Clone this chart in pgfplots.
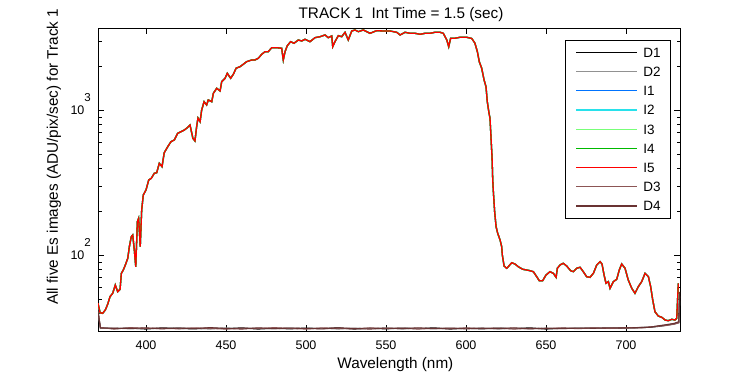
\documentclass[border=0pt]{standalone}
\usepackage{pgfplots}
\pgfplotsset{compat=1.18}
\usepackage{pgfplotstable}
\usepackage{fontspec}
\setmainfont{Liberation Sans}

\definecolor{colDa}{RGB}{0,0,0}
\definecolor{colDb}{RGB}{145,145,145}
\definecolor{colIa}{RGB}{0,115,255}
\definecolor{colIb}{RGB}{40,225,235}
\definecolor{colIc}{RGB}{120,255,120}
\definecolor{colId}{RGB}{0,185,0}
\definecolor{colIe}{RGB}{255,0,0}
\definecolor{colDc}{RGB}{140,85,85}
\definecolor{colDd}{RGB}{105,50,50}

\pgfplotstableread{
x y
370.0 46.7
371.3 40.2
372.9 39.8
374.6 42.0
376.1 46.1
377.5 51.8
379.2 54.7
380.8 62.4
382.3 56.1
383.8 58.3
384.6 75.1
385.8 79.2
387.1 85.8
388.6 95.3
389.6 114.6
390.8 134.4
391.7 138.0
392.7 108.8
393.6 83.4
394.6 170.5
395.4 180.0
396.4 114.6
397.3 205.3
398.3 260.6
400.0 282.1
401.7 330.6
403.3 339.6
405.2 367.8
406.7 371.3
408.3 431.0
410.0 408.3
411.4 510.0
413.6 561.0
415.6 607.5
417.7 624.1
419.8 694.0
421.9 711.9
424.0 731.3
425.6 755
427.5 791.9
429.3 641.2
430.6 614
431.7 779
432.5 885
433.8 834.4
434.8 1005
436.3 1146.6
437.9 1087.9
438.9 1177.8
441.1 1146.6
442.1 1310
444.2 1418
446.3 1359
447.3 1575
449.4 1662
450.8 1800
452.9 1662
454.6 1772
456.3 1949
458.8 1999
460.8 2077
462.9 2164
466.1 2223
468.1 2223
470.2 2284
472.3 2433
474.4 2536
476.4 2536
478.6 2702
481.7 2702
484.8 2677
485.8 2223
486.9 2536
488.3 2789
490.4 2972
492.5 2898
495.2 3053
497.3 3005
499.4 3088
502.5 2972
505.6 3167
508.8 3218
511.9 3306
513.9 3167
516.1 3254
516.7 2745
518.1 2972
520.2 3269
522.3 3218
524.4 3450
526.4 3053
528.6 3523
530.6 3579
532.7 3484
535.8 3579
540.0 3396
544.2 3540
548.3 3523
552.5 3523
556.7 3450
558.8 3306
561.9 3450
565.0 3396
568.1 3396
571.3 3343
574.4 3396
577.5 3396
580.6 3450
583.8 3450
585.8 3396
588.0 3053
589.2 2745
590.4 3138
593.1 3138
596.3 3188
600.4 3188
603.6 3128
605.6 2898
607.1 2536
608.3 2164
609.8 1949
611.3 1618
612.5 1455
613.3 1147
614.4 953.5
615.0 880.8
615.6 657.6
616.3 466.7
616.7 330.6
617.1 274.6
617.9 199.8
618.8 157.5
619.8 141.8
621.3 127.5
622.3 114.6
622.7 100.5
623.8 84.4
625.4 81.4
626.4 83.4
628.6 88.9
630.6 87.1
632.7 83.4
635.4 80.1
637.9 79.2
640.0 78.3
642.1 77.1
644.2 71.2
645.8 66.8
647.9 66.8
650.0 73.1
652.5 77.1
654.6 75.1
656.3 70.5
657.1 81.4
658.8 85.8
660.8 88.1
662.9 84.4
665.4 78.3
667.1 77.1
669.2 81.4
671.3 82.7
673.3 77.1
675.4 71.2
677.5 70.5
679.6 75.1
681.7 85.8
683.8 90.4
685.0 87.1
686.3 73.1
687.5 64.1
689.0 65.8
690.0 59.2
692.1 65.8
694.2 68.3
695.8 79.2
697.3 87.1
699.4 81.4
701.4 67.6
703.6 59.2
705.6 54.7
707.7 60.8
709.8 65.8
711.9 75.1
714.0 71.2
715.4 60.8
716.7 49.2
718.1 40.8
720.2 38.1
722.3 37.4
724.4 35.8
726.4 35.4
728.6 36.2
730.6 35.8
731.7 36.8
732.7 64.1
}\ispec

\pgfplotstableread{
x d1 d2 d3 d4
370.0 41.0 40.5 41.2 40.8
371.5 31.6 31.3 31.8 31.5
380 31.2 31.5 31.0 31.4
390 31.5 31.1 31.7 31.3
400 31.0 31.4 31.3 31.6
410 31.6 31.2 31.5 31.1
420 31.3 31.7 31.1 31.5
430 31.1 31.3 31.6 31.2
440 31.5 31.0 31.3 31.7
450 31.2 31.6 31.0 31.3
460 31.6 31.2 31.5 31.0
470 31.0 31.5 31.2 31.6
480 31.4 31.1 31.7 31.2
490 31.1 31.6 31.3 31.5
500 31.5 31.2 31.0 31.3
510 31.2 31.4 31.6 31.1
520 31.6 31.0 31.3 31.6
530 31.0 31.5 31.1 31.3
540 31.4 31.2 31.6 31.0
550 31.1 31.6 31.2 31.5
560 31.5 31.0 31.5 31.2
570 31.2 31.4 31.0 31.6
580 31.6 31.1 31.4 31.2
590 31.0 31.5 31.1 31.5
600 31.4 31.2 31.6 31.1
610 31.1 31.6 31.2 31.4
620 31.5 31.0 31.5 31.2
630 31.2 31.4 31.0 31.6
640 31.6 31.1 31.4 31.1
650 31.0 31.5 31.2 31.4
660 31.4 31.2 31.6 31.2
670 31.3 31.6 31.2 31.5
680 31.5 31.3 31.6 31.4
690 31.4 31.7 31.3 31.6
700 31.6 31.4 31.7 31.5
710 31.7 31.9 31.6 31.8
715 31.9 32.0 32.1 31.9
720 32.3 32.5 32.4 32.6
725 32.9 33.1 32.8 33.2
730 33.6 33.8 33.5 33.9
733.0 34.4 34.6 34.2 34.8
733.5 55.0 48.0 52.0 56.0
}\dspec

\begin{document}
\begin{tikzpicture}
\useasboundingbox (0,0) rectangle (750bp,375bp);
\begin{axis}[
  at={(98bp,44bp)}, anchor=south west,
  scale only axis, width=582bp, height=303bp,
  ymode=log,
  xmin=370, xmax=733.75, ymin=30.06, ymax=3694,
  xtick={400,450,500,550,600,650,700},
  xticklabels={400,450,500,550,600,650,700},
  ytick={100,1000},
  minor ytick={40,50,60,70,80,90,200,300,400,500,600,700,800,900,2000,3000},
  yticklabels={{10\raisebox{13bp}{\fontsize{11.5bp}{11.5bp}\selectfont 2}},{10\raisebox{13bp}{\fontsize{11.5bp}{11.5bp}\selectfont 3}}},
  tick align=inside,
  major tick length=6bp, minor tick length=3.5bp,
  every tick/.style={black, line width=0.6bp},
  axis line style={line width=0.8bp},
  xticklabel style={font=\fontsize{12.5bp}{12.5bp}\selectfont, anchor=base, yshift=-19bp, inner sep=0pt},
  yticklabel style={font=\fontsize{12.5bp}{12.5bp}\selectfont, anchor=base east, yshift=-4.7bp, xshift=-7bp, inner sep=0pt},
  title={TRACK 1\ \ Int Time = 1.5 (sec)},
  title style={font=\fontsize{15.3bp}{15.3bp}\selectfont, at={(axis description cs:0.5206,1)}, anchor=base, yshift=3.7bp, inner sep=0pt},
  xlabel={Wavelength (nm)},
  xlabel style={font=\fontsize{15.3bp}{15.3bp}\selectfont, at={(axis description cs:0.511,0)}, anchor=base, yshift=-37.8bp, inner sep=0pt},
  ylabel={All five Es images (ADU/pix/sec) for Track 1},
  ylabel style={font=\fontsize{15.3bp}{15.3bp}\selectfont, at={(axis description cs:-0.069,0.0858)}, anchor=base west, inner sep=0pt},
  legend cell align=left,
  legend image code/.code={\draw[#1, line width=1.2bp] (0bp,0bp) -- (61bp,0bp);},
  legend style={at={(axis description cs:0.98454,0.96040)}, anchor=north east,
    draw=black, line width=0.8bp, fill=white,
    font=\fontsize{13.5bp}{13.5bp}\selectfont,
    inner xsep=10bp, inner ysep=7.2bp, row sep=9.5bp, column sep=5.7bp,
    nodes={inner sep=0pt, text height=9.7bp, text depth=0pt}},
]
\addplot[color=colDa, line width=1.1bp] table[x=x, y=d1] {\dspec};
\addlegendentry{D1}
\addplot[color=colDb, line width=1.1bp] table[x=x, y=d2] {\dspec};
\addlegendentry{D2}
\addplot[color=colIa, line width=1.3bp] table[x=x, y=y] {\ispec};
\addlegendentry{I1}
\addplot[color=colIb, line width=1.3bp] table[x=x, y=y] {\ispec};
\addlegendentry{I2}
\addplot[color=colIc, line width=1.3bp] table[x=x, y=y] {\ispec};
\addlegendentry{I3}
\addplot[color=colId, line width=1.3bp] table[x=x, y=y] {\ispec};
\addlegendentry{I4}
\addplot[color=colIe, line width=1.3bp] table[x=x, y=y] {\ispec};
\addlegendentry{I5}
\addplot[color=colDc, line width=1.1bp] table[x=x, y=d3] {\dspec};
\addlegendentry{D3}
\addplot[color=colDd, line width=1.1bp] table[x=x, y=d4] {\dspec};
\addlegendentry{D4}
\end{axis}
\end{tikzpicture}
\end{document}
